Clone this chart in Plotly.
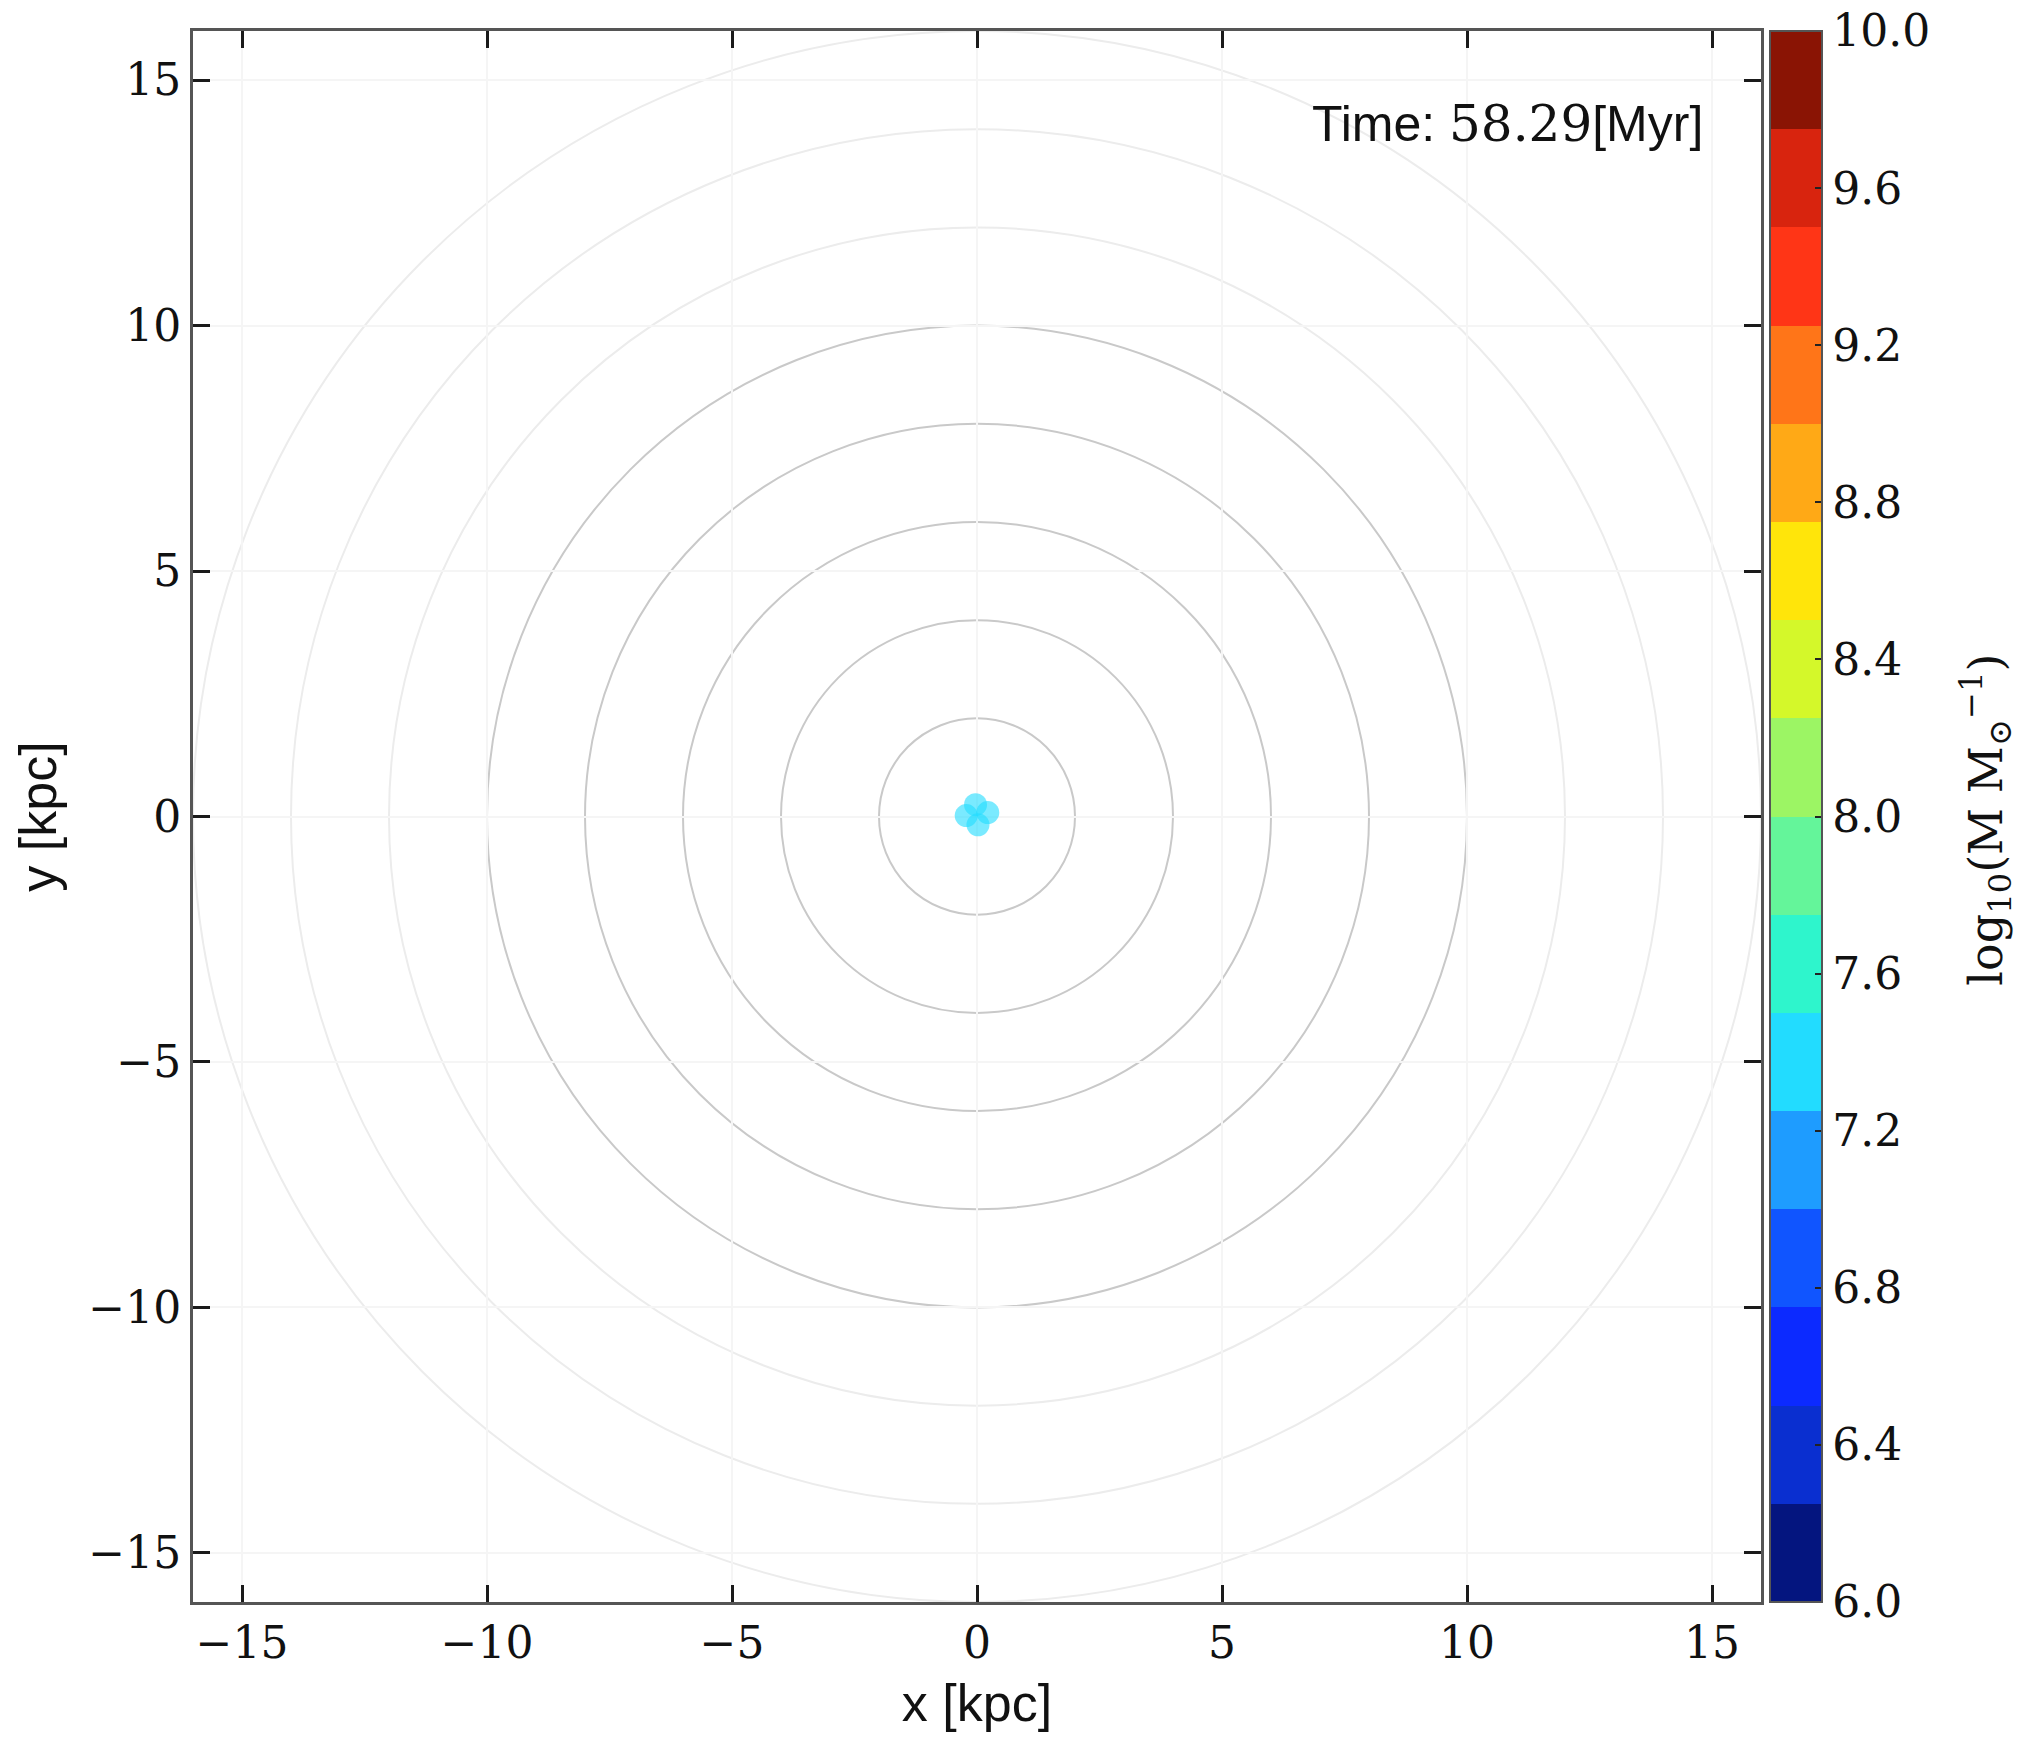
import plotly.graph_objects as go

# ---- data ----
star_x = [-0.03, -0.22, 0.22, 0.02]
star_y = [0.24, 0.02, 0.08, -0.17]
star_logm = [7.40, 7.40, 7.40, 7.40]

ring_radii_inner = [2, 4, 6, 8, 10]
ring_radii_outer = [12, 14, 16]

axis_ticks = [-15, -10, -5, 0, 5, 10, 15]
axis_ticktext = ["\u221215", "\u221210", "\u22125", "0", "5", "10", "15"]

cbar_ticks = [6.0, 6.4, 6.8, 7.2, 7.6, 8.0, 8.4, 8.8, 9.2, 9.6, 10.0]
cbar_ticktext = ["6.0", "6.4", "6.8", "7.2", "7.6", "8.0", "8.4", "8.8", "9.2", "9.6", "10.0"]

band_colors = [
    "#04157F", "#0A2FD0", "#0C2AFF", "#1055FF",
    "#1E9CFF", "#22DCFF", "#2EF5CC", "#64F59A",
    "#9CF564", "#D4F82A", "#FFE50A", "#FFA916",
    "#FF7518", "#FF3516", "#D8240E", "#8A1404",
]
cmin, cmax = 6.0, 10.0
time_label = "Time: <span style='font-family:DejaVu Serif'>58.29</span>[Myr]"
cbar_title = "log<sub>10</sub>(M M<sub>\u2299</sub><sup>\u22121</sup>)"

# ---- discrete colorscale ----
n = len(band_colors)
colorscale = []
for i, c in enumerate(band_colors):
    colorscale.append([i / n, c])
    colorscale.append([(i + 1) / n, c])

serif = "DejaVu Serif"
sans = "Liberation Sans"

fig = go.Figure()

fig.add_trace(go.Scatter(
    x=star_x, y=star_y, mode="markers",
    marker=dict(
        size=23, color=star_logm, colorscale=colorscale, cmin=cmin, cmax=cmax,
        opacity=0.6, line=dict(width=0),
        showscale=True,
        colorbar=dict(
            x=1.0057, xanchor="left", y=0.5, yanchor="middle",
            len=1.0, lenmode="fraction", thickness=52, thicknessmode="pixels",
            outlinecolor="#555555", outlinewidth=2,
            tickvals=cbar_ticks, ticktext=cbar_ticktext,
            ticks="inside", ticklen=8, tickwidth=2, tickcolor="#222222",
            tickfont=dict(family=serif, size=44, color="#111111"),
            xpad=0, ypad=0,
        ),
    ),
    showlegend=False, hoverinfo="skip",
))

shapes = []
for r in ring_radii_inner:
    shapes.append(dict(type="circle", xref="x", yref="y", x0=-r, x1=r, y0=-r, y1=r,
                       line=dict(color="#C9C9C9", width=2), layer="below"))
for r in ring_radii_outer:
    shapes.append(dict(type="circle", xref="x", yref="y", x0=-r, x1=r, y0=-r, y1=r,
                       line=dict(color="#ECECEC", width=2), layer="below"))

axis_common = dict(
    range=[-16, 16], tickvals=axis_ticks, ticktext=axis_ticktext,
    ticks="inside", ticklen=17, tickwidth=3, tickcolor="#1a1a1a",
    showline=True, linecolor="#555555", linewidth=3, mirror="ticks",
    showgrid=True, gridcolor="#F5F5F5", gridwidth=2, zeroline=False,
    tickfont=dict(family=serif, size=44, color="#111111"),
)

fig.update_layout(
    width=2042, height=1741,
    margin=dict(l=193, r=281, t=31, b=139, autoexpand=False),
    paper_bgcolor="white", plot_bgcolor="white",
    shapes=shapes,
    xaxis=dict(**axis_common, title=dict(text="x [kpc]", font=dict(family=sans, size=52, color="#111111"), standoff=18)),
    yaxis=dict(**axis_common, title=dict(text="y [kpc]", font=dict(family=sans, size=52, color="#111111"), standoff=16)),
    annotations=[
        dict(
            x=14.86, y=14.1, xref="x", yref="y", xanchor="right", yanchor="middle",
            text=time_label, showarrow=False,
            font=dict(family=sans, size=50, color="#111111"),
        ),
        dict(
            x=1.1435, y=0.498, xref="paper", yref="paper", xanchor="center", yanchor="middle",
            text=cbar_title, showarrow=False, textangle=-90,
            font=dict(family=serif, size=46, color="#111111"),
        ),
    ],
)

fig.write_html("out.html")
